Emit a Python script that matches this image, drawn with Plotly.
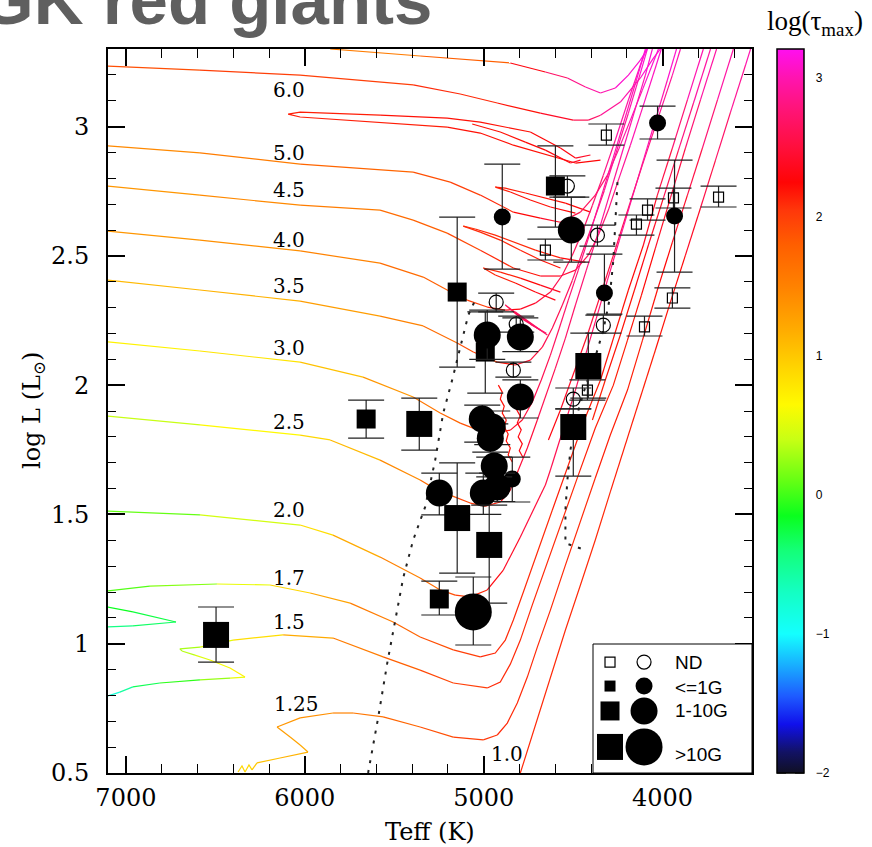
import plotly.graph_objects as go
from plotly.colors import sample_colorscale

# ---------------------------------------------------------------------------
# Colour scale for log(tau_max)
# ---------------------------------------------------------------------------
TAU_MIN, TAU_MAX = -2.0, 3.21
TAU_STOPS = [
    (-2.0, "rgb(16,16,36)"), (-1.85, "rgb(18,18,100)"), (-1.65, "rgb(16,16,235)"),
    (-1.45, "rgb(30,90,255)"), (-1.25, "rgb(25,165,255)"), (-1.0, "rgb(20,255,255)"),
    (-0.7, "rgb(20,255,195)"), (-0.4, "rgb(20,255,120)"), (-0.15, "rgb(10,255,30)"),
    (0.1, "rgb(100,255,20)"), (0.4, "rgb(200,255,20)"), (0.65, "rgb(255,250,0)"),
    (0.9, "rgb(255,215,0)"), (1.2, "rgb(255,170,0)"), (1.5, "rgb(255,130,0)"),
    (1.8, "rgb(255,95,0)"), (2.05, "rgb(255,55,10)"), (2.25, "rgb(255,5,5)"),
    (2.5, "rgb(255,15,60)"), (2.8, "rgb(255,20,125)"), (3.0, "rgb(255,20,175)"),
    (3.21, "rgb(255,15,240)"),
]

# ---------------------------------------------------------------------------
# Evolutionary tracks: (Teff [K], log L/Lsun, log tau_max)
# ---------------------------------------------------------------------------
TRACK_7_0 = [(5858, 3.300, 1.5), (5355, 3.273, 1.6), (4851, 3.246, 2.0), (4655, 3.211, 2.6),
             (4532, 3.188, 2.8), (4431, 3.153, 2.9), (4347, 3.130, 3.0), (4264, 3.149, 3.05),
             (4191, 3.199, 3.1), (4124, 3.257, 3.15), (4085, 3.300, 3.2)]

TRACK_6_0 = [(7101, 3.234, 1.9), (6586, 3.218, 1.95), (6026, 3.199, 2.0), (5394, 3.161, 2.05),
             (5131, 3.126, 2.1), (4924, 3.091, 2.15), (4683, 3.052, 2.3), (4499, 3.025, 2.5),
             (4415, 3.025, 2.65), (4347, 3.044, 2.8), (4236, 3.095, 2.95), (4124, 3.188, 3.05),
             (4051, 3.265, 3.1), (4012, 3.300, 3.15)]

LOOP_6_0 = [(4347, 2.870, 2.3), (4487, 2.859, 2.25), (4644, 2.890, 2.2), (4834, 2.928, 2.2),
            (5019, 2.975, 2.2), (5204, 2.998, 2.2), (5579, 3.017, 2.15), (6026, 3.037, 2.15),
            (6093, 3.048, 2.15), (6026, 3.056, 2.15), (5579, 3.044, 2.2), (5204, 3.033, 2.2),
            (5019, 3.017, 2.2), (4739, 2.979, 2.25), (4571, 2.917, 2.3), (4487, 2.878, 2.35),
            (4403, 2.890, 2.4)]

LOOP_6_0B = [(5064, 3.010, 2.2), (4907, 2.979, 2.2), (4767, 2.940, 2.25), (4655, 2.909, 2.3),
             (4571, 2.878, 2.3), (4515, 2.859, 2.35), (4459, 2.870, 2.4)]

TRACK_5_0 = [(7101, 2.925, 1.4), (6586, 2.898, 1.5), (6026, 2.855, 1.65), (5394, 2.824, 1.85),
             (5187, 2.785, 1.95), (5019, 2.735, 2.05), (4834, 2.669, 2.2), (4683, 2.646, 2.3),
             (4571, 2.630, 2.45), (4459, 2.669, 2.6), (4376, 2.735, 2.7), (4308, 2.812, 2.8),
             (4247, 2.909, 2.9), (4180, 3.025, 3.0), (4113, 3.141, 3.05), (4040, 3.265, 3.1),
             (4023, 3.300, 3.1)]

LOOP_5_0 = [(4403, 2.669, 2.3), (4543, 2.704, 2.25), (4655, 2.723, 2.2), (4767, 2.743, 2.2),
            (4879, 2.762, 2.15), (4935, 2.766, 2.15), (4851, 2.747, 2.2), (4739, 2.716, 2.2),
            (4627, 2.689, 2.25), (4487, 2.665, 2.3)]

TRACK_4_5 = [(7101, 2.770, 1.3), (6586, 2.735, 1.4), (6026, 2.696, 1.5), (5579, 2.677, 1.6),
             (5394, 2.638, 1.75), (5204, 2.588, 1.9), (5019, 2.522, 2.0), (4834, 2.453, 2.15),
             (4683, 2.422, 2.3), (4571, 2.422, 2.45), (4487, 2.445, 2.55), (4415, 2.503, 2.65),
             (4359, 2.580, 2.7), (4303, 2.677, 2.8), (4247, 2.793, 2.85), (4180, 2.928, 2.95),
             (4107, 3.083, 3.0), (4035, 3.238, 3.1), (4007, 3.300, 3.1)]

LOOP_4_5 = [(4431, 2.476, 2.3), (4571, 2.492, 2.2), (4711, 2.522, 2.15), (4823, 2.550, 2.1),
            (4935, 2.580, 2.1), (5047, 2.604, 2.05), (5114, 2.615, 2.05), (5019, 2.592, 2.1),
            (4907, 2.561, 2.1), (4795, 2.522, 2.15), (4683, 2.484, 2.2), (4571, 2.453, 2.25)]

TRACK_4_0 = [(7101, 2.596, 1.3), (6586, 2.561, 1.35), (6026, 2.519, 1.45), (5579, 2.472, 1.6),
             (5338, 2.418, 1.75), (5204, 2.368, 1.85), (5092, 2.329, 1.95), (4980, 2.302, 2.1),
             (4879, 2.290, 2.25), (4795, 2.294, 2.35), (4711, 2.317, 2.45), (4627, 2.360, 2.55),
             (4560, 2.426, 2.6), (4504, 2.503, 2.65), (4448, 2.592, 2.7), (4392, 2.696, 2.75),
             (4331, 2.812, 2.8), (4264, 2.948, 2.9), (4191, 3.103, 3.0), (4124, 3.238, 3.05),
             (4090, 3.300, 3.1)]

LOOP_4_0 = [(4571, 2.360, 2.4), (4683, 2.387, 2.3), (4795, 2.414, 2.2), (4907, 2.437, 2.15),
            (5002, 2.453, 2.1), (4935, 2.426, 2.15), (4823, 2.395, 2.2), (4711, 2.360, 2.3),
            (4599, 2.329, 2.4)]

TRACK_3_5 = [(7101, 2.406, 1.05), (6586, 2.368, 1.1), (6026, 2.325, 1.2), (5579, 2.267, 1.4),
             (5338, 2.229, 1.6), (5148, 2.163, 1.8), (5058, 2.128, 1.95), (4924, 2.089, 2.1),
             (4823, 2.078, 2.3), (4739, 2.097, 2.45), (4672, 2.147, 2.55), (4616, 2.221, 2.6),
             (4560, 2.310, 2.65), (4504, 2.406, 2.7), (4448, 2.515, 2.75), (4387, 2.631, 2.8),
             (4325, 2.754, 2.85), (4258, 2.901, 2.9), (4191, 3.052, 2.95), (4124, 3.207, 3.05),
             (4085, 3.300, 3.1)]

LOOP_3_5 = [(4644, 2.194, 2.7), (4767, 2.252, 2.65), (4879, 2.310, 2.6), (4795, 2.260, 2.65),
            (4683, 2.213, 2.7), (4823, 2.283, 2.65), (4739, 2.236, 2.7), (4650, 2.201, 2.75)]

TRACK_3_0 = [(7101, 2.167, 0.7), (6586, 2.132, 0.75), (6026, 2.089, 0.9), (5674, 2.031, 1.2),
             (5394, 1.954, 1.5), (5243, 1.892, 1.7), (5131, 1.853, 1.85), (5030, 1.826, 2.0),
             (4935, 1.815, 2.15), (4851, 1.826, 2.3), (4784, 1.865, 2.45), (4728, 1.935, 2.55),
             (4678, 2.020, 2.6), (4627, 2.116, 2.65), (4577, 2.221, 2.7), (4527, 2.329, 2.75),
             (4471, 2.445, 2.8), (4409, 2.580, 2.85), (4347, 2.716, 2.9), (4280, 2.870, 2.95),
             (4213, 3.025, 3.0), (4146, 3.180, 3.05), (4096, 3.300, 3.1)]

TRACK_2_5 = [(7101, 1.880, 0.35), (6586, 1.846, 0.5), (6026, 1.807, 0.8), (5858, 1.788, 0.95),
             (5579, 1.710, 1.3), (5355, 1.633, 1.6), (5260, 1.594, 1.75), (5159, 1.567, 1.9),
             (5075, 1.544, 2.0), (4991, 1.532, 2.1), (4907, 1.548, 2.25), (4851, 1.594, 2.35),
             (4806, 1.672, 2.45), (4756, 1.757, 2.5), (4700, 1.865, 2.55), (4650, 1.962, 2.6),
             (4599, 2.066, 2.65), (4543, 2.182, 2.7), (4487, 2.310, 2.75), (4426, 2.445, 2.8),
             (4364, 2.580, 2.85), (4297, 2.735, 2.9), (4230, 2.890, 2.95), (4163, 3.044, 3.0),
             (4096, 3.199, 3.05), (4057, 3.300, 3.1)]

CLUMP_2_5 = [(4918, 2.000, 2.2), (4896, 1.973, 2.2), (4907, 1.946, 2.2), (4885, 1.919, 2.2),
             (4896, 1.892, 2.2), (4874, 1.865, 2.2), (4885, 1.838, 2.2), (4863, 1.811, 2.2),
             (4874, 1.784, 2.2), (4851, 1.757, 2.2), (4863, 1.730, 2.2), (4840, 1.703, 2.2)]

CLUMP_2_0 = [(4823, 1.962, 2.3), (4801, 1.935, 2.3), (4818, 1.908, 2.3), (4796, 1.881, 2.3),
             (4812, 1.854, 2.3), (4790, 1.827, 2.3), (4807, 1.800, 2.3), (4784, 1.773, 2.3),
             (4801, 1.746, 2.3), (4779, 1.719, 2.3)]

TRACK_2_0 = [(7101, 1.513, 0.0), (6586, 1.498, 0.2), (6026, 1.459, 0.7), (5842, 1.420, 1.0),
             (5579, 1.335, 1.35), (5355, 1.254, 1.65), (5243, 1.208, 1.8), (5159, 1.188, 1.95),
             (5075, 1.181, 2.05), (4980, 1.208, 2.2), (4890, 1.285, 2.35), (4840, 1.351, 2.4),
             (4795, 1.413, 2.45), (4739, 1.494, 2.5), (4700, 1.544, 2.5), (4655, 1.614, 2.55),
             (4627, 1.672, 2.55), (4583, 1.768, 2.6), (4538, 1.873, 2.6), (4487, 1.981, 2.65),
             (4431, 2.116, 2.7), (4370, 2.259, 2.75), (4308, 2.406, 2.8), (4241, 2.561, 2.85),
             (4174, 2.716, 2.9), (4107, 2.870, 2.95), (4040, 3.025, 3.0), (3973, 3.180, 3.05),
             (3922, 3.300, 3.1)]

TRACK_1_7 = [(7101, 1.204, 0.0), (6866, 1.223, 0.1), (6491, 1.231, 0.35), (6194, 1.227, 0.75),
             (5970, 1.196, 1.1), (5746, 1.157, 1.4), (5506, 1.084, 1.7), (5355, 1.026, 1.85),
             (5170, 0.976, 1.95), (5019, 0.949, 2.05), (4935, 0.964, 2.1), (4879, 1.014, 2.1),
             (4834, 1.092, 2.1), (4778, 1.200, 2.1), (4700, 1.351, 2.1), (4616, 1.517, 2.15),
             (4527, 1.691, 2.15), (4437, 1.865, 2.15), (4347, 2.020, 2.2), (4269, 2.194, 2.2),
             (4191, 2.368, 2.25), (4107, 2.542, 2.3), (4029, 2.735, 2.45), (3945, 2.917, 2.65),
             (3861, 3.103, 2.9), (3772, 3.300, 3.1)]

HOOK_1_7 = [(7101, 1.142, -0.1), (6961, 1.123, -0.2), (6720, 1.084, -0.3), (6961, 1.069, -0.4),
            (7101, 1.065, -0.5)]

TRACK_1_5 = [(7101, 0.798, -0.9), (7034, 0.813, -0.7), (6961, 0.833, -0.45), (6810, 0.848, -0.2),
             (6586, 0.860, 0.1), (6418, 0.867, 0.4), (6334, 0.871, 0.75), (6418, 0.906, 0.7),
             (6530, 0.937, 0.55), (6614, 0.956, 0.4), (6687, 0.972, 0.3), (6698, 0.980, 0.25),
             (6586, 0.987, 0.35), (6401, 1.014, 0.7), (6121, 1.034, 1.0), (5842, 1.022, 1.35),
             (5562, 0.949, 1.75), (5355, 0.898, 1.9), (5170, 0.848, 2.0), (4980, 0.829, 2.05),
             (4907, 0.852, 2.1), (4851, 0.921, 2.1), (4795, 1.014, 2.1), (4728, 1.150, 2.1),
             (4644, 1.312, 2.1), (4560, 1.478, 2.1), (4471, 1.652, 2.15), (4376, 1.834, 2.15),
             (4275, 2.000, 2.15), (4196, 2.174, 2.2), (4118, 2.348, 2.2), (4040, 2.530, 2.3),
             (3956, 2.724, 2.45), (3872, 2.917, 2.65), (3788, 3.103, 2.9), (3698, 3.300, 3.05)]

TRACK_1_25 = [(6373, 0.504, 0.9), (6351, 0.527, 0.9), (6334, 0.504, 0.9), (6312, 0.531, 0.9),
              (6295, 0.512, 0.95), (6267, 0.539, 1.0), (6138, 0.558, 1.1), (5982, 0.581, 1.2),
              (6026, 0.608, 1.25), (6082, 0.639, 1.3), (6155, 0.678, 1.3), (6026, 0.713, 1.35),
              (5842, 0.732, 1.45), (5730, 0.732, 1.55), (5562, 0.717, 1.7), (5355, 0.678, 1.85),
              (5170, 0.639, 1.95), (5002, 0.628, 2.05), (4924, 0.647, 2.05), (4868, 0.693, 2.1),
              (4812, 0.771, 2.1), (4756, 0.871, 2.1), (4700, 0.987, 2.1), (4627, 1.130, 2.1),
              (4543, 1.304, 2.1), (4459, 1.478, 2.1), (4376, 1.641, 2.15), (4292, 1.807, 2.15),
              (4196, 1.981, 2.15), (4112, 2.174, 2.2), (4029, 2.368, 2.2), (3945, 2.553, 2.3),
              (3861, 2.735, 2.45), (3777, 2.917, 2.65), (3693, 3.103, 2.9), (3604, 3.300, 3.05)]

TRACK_1_0 = [(4795, 0.500, 2.1), (4711, 0.686, 2.1), (4627, 0.867, 2.1), (4543, 1.053, 2.1),
             (4459, 1.227, 2.1), (4376, 1.401, 2.1), (4292, 1.587, 2.15), (4208, 1.768, 2.15),
             (4124, 1.954, 2.15), (4040, 2.136, 2.2), (3956, 2.321, 2.2), (3872, 2.503, 2.3),
             (3788, 2.685, 2.45), (3704, 2.870, 2.6), (3620, 3.056, 2.8), (3536, 3.238, 3.0),
             (3508, 3.300, 3.05)]

AGB_A = [(4638, 1.788, 2.3), (4571, 1.904, 2.35), (4499, 2.039, 2.4), (4420, 2.194, 2.45),
         (4347, 2.348, 2.5), (4269, 2.515, 2.55), (4191, 2.685, 2.65), (4113, 2.851, 2.75),
         (4029, 3.025, 2.85), (3945, 3.199, 2.95), (3900, 3.300, 3.0)]

AGB_B = [(4392, 1.865, 2.15), (4320, 2.020, 2.2), (4236, 2.194, 2.2), (4157, 2.368, 2.25),
         (4079, 2.542, 2.35), (3995, 2.724, 2.5), (3911, 2.909, 2.7), (3827, 3.091, 2.9),
         (3732, 3.300, 3.05)]

TRACKS = [TRACK_7_0, TRACK_6_0, LOOP_6_0, LOOP_6_0B, TRACK_5_0, LOOP_5_0, TRACK_4_5, LOOP_4_5,
          TRACK_4_0, LOOP_4_0, TRACK_3_5, LOOP_3_5, TRACK_3_0, TRACK_2_5, CLUMP_2_5, CLUMP_2_0,
          TRACK_2_0, TRACK_1_7, HOOK_1_7, TRACK_1_5, TRACK_1_25, TRACK_1_0, AGB_A, AGB_B]

# Mass labels of the tracks (Msun)
MASS_LABELS = ["6.0", "5.0", "4.5", "4.0", "3.5", "3.0", "2.5", "2.0", "1.7", "1.5", "1.25", "1.0"]
MASS_LABEL_TEFF = [6088, 6088, 6088, 6088, 6088, 6088, 6088, 6088, 6088, 6088, 6049, 4868]
MASS_LABEL_LOGL = [3.141, 2.898, 2.754, 2.561, 2.383, 2.143, 1.857, 1.517, 1.254, 1.084, 0.767, 0.574]

# Dotted boundary lines (Teff, log L)
EDGE_HOT = [(5646, 0.500), (5590, 0.713), (5539, 0.925), (5495, 1.092), (5450, 1.254),
            (5394, 1.401), (5327, 1.529), (5271, 1.710), (5226, 1.892), (5176, 2.020),
            (5131, 2.147), (5086, 2.271), (5047, 2.329)]
EDGE_COOL = [(4252, 2.785), (4264, 2.638), (4275, 2.484), (4297, 2.329), (4331, 2.213),
             (4381, 2.097), (4437, 1.981), (4487, 1.865), (4515, 1.749), (4532, 1.633),
             (4543, 1.517), (4543, 1.389), (4487, 1.374), (4431, 1.362)]

# ---------------------------------------------------------------------------
# Observed stars: Teff, log L, upper and lower log L bounds, class
# class: nd = non-detection, lo = <=1G, mid = 1-10G, hi = >10G ; sq / ci = symbol family
# ---------------------------------------------------------------------------
STAR_TEFF = [6496, 5657, 5360, 5148, 4599, 4532, 4896, 4314, 4028, 4655, 4510, 4364, 4146, 4084,
             3939, 3933, 3687, 4930, 4325, 3945, 4818, 4331, 4101, 4980, 4991, 4795, 4834, 4415,
             4499, 4499, 4795, 5008, 4952, 4963, 4941, 4840, 5248, 5002, 4924, 5148, 4969, 5248,
             5058, 4420]
STAR_LOGL = [1.034, 1.869, 1.850, 2.360, 2.770, 2.770, 2.650, 2.967, 3.014, 2.522, 2.600, 2.580,
             2.623, 2.677, 2.724, 2.654, 2.727, 2.321, 2.356, 2.337, 2.236, 2.232, 2.225, 2.194,
             2.128, 2.186, 2.058, 2.074, 1.946, 1.838, 1.954, 1.869, 1.838, 1.795, 1.687, 1.637,
             1.583, 1.583, 1.606, 1.486, 1.382, 1.173, 1.123, 1.981]
STAR_LOGL_HI = [1.142, 1.942, 1.950, 2.650, 2.925, 2.809, 2.855, 3.010, 3.079, 2.565, 2.727, 2.619,
                2.658, 2.720, 2.762, 2.870, 2.770, 2.356, 2.507, 2.376, 2.267, 2.271, 2.267, 2.290,
                2.283, 2.260, 2.089, 2.201, 1.989, 1.908, 2.020, 1.923, 1.900, 1.850, 1.722, 1.722,
                1.660, 1.660, 1.660, 1.699, 1.536, 1.242, 1.258, 2.020]
STAR_LOGL_LO = [0.929, 1.795, 1.749, 2.070, 2.611, 2.727, 2.449, 2.928, 2.952, 2.484, 2.476, 2.538,
                2.580, 2.638, 2.685, 2.437, 2.689, 2.283, 2.275, 2.298, 2.205, 2.201, 2.190, 2.100,
                1.969, 2.130, 2.031, 1.950, 1.908, 1.648, 1.873, 1.780, 1.770, 1.741, 1.645, 1.548,
                1.498, 1.500, 1.550, 1.273, 1.157, 1.111, 0.995, 1.942]
STAR_CLASS = ["hi_sq", "mid_sq", "hi_sq", "mid_sq", "mid_sq", "nd_ci", "lo_ci", "nd_sq", "lo_ci",
              "nd_sq", "mid_ci", "nd_ci", "nd_sq", "nd_sq", "nd_sq", "lo_ci", "nd_sq", "nd_ci",
              "lo_ci", "nd_sq", "nd_ci", "nd_ci", "nd_sq", "mid_ci", "mid_sq", "mid_ci", "nd_ci",
              "hi_sq", "nd_ci", "hi_sq", "mid_ci", "mid_ci", "mid_ci", "mid_ci", "mid_ci", "lo_ci",
              "mid_ci", "mid_ci", "mid_ci", "hi_sq", "hi_sq", "mid_sq", "hi_ci", "nd_sq"]

# Symbol styling per class
CLASS_STYLE = {
    "nd_sq": ("square-open", 10), "nd_ci": ("circle-open", 14),
    "lo_sq": ("square", 11), "lo_ci": ("circle", 17),
    "mid_sq": ("square", 19), "mid_ci": ("circle", 27),
    "hi_sq": ("square", 26), "hi_ci": ("circle", 37),
}
LEGEND_ROWS = [("ND", "nd"), ("<=1G", "lo"), ("1-10G", "mid"), (">10G", "hi")]

# colour-bar ticks
CBAR_MAJOR = [-2, -1, 0, 1, 2, 3]
CBAR_MINOR_STEP = 0.2

SERIF = "DejaVu Serif"
SANS = "Liberation Sans, Arial, sans-serif"

# plot frame in pixels (left, right, top, bottom) and colour-bar column
PX_L, PX_R, PX_T, PX_B = 108, 752, 49, 773
CB_L, CB_R = 777, 804
PW, PH = PX_R - PX_L, PX_B - PX_T


def paper_x(px):
    return (px - PX_L) / PW


def paper_y(py):
    return (PX_B - py) / PH


colorscale = [[(v - TAU_MIN) / (TAU_MAX - TAU_MIN), c] for v, c in TAU_STOPS]


def tau_colour(v):
    f = (v - TAU_MIN) / (TAU_MAX - TAU_MIN)
    return sample_colorscale(colorscale, [min(max(f, 0.0), 1.0)])[0]


fig = go.Figure()

# --- tracks, coloured segment by segment (segments grouped by colour bin) ---
segments = {}
for trk in TRACKS:
    for (t0, l0, c0), (t1, l1, c1) in zip(trk[:-1], trk[1:]):
        key = round(round((c0 + c1) / 2 / 0.05) * 0.05, 2)
        xs, ys = segments.setdefault(key, ([], []))
        if len(xs) >= 2 and xs[-2] == t0 and ys[-2] == l0:
            xs.pop(); ys.pop()
            xs += [t1, None]; ys += [l1, None]
        else:
            xs += [t0, t1, None]; ys += [l0, l1, None]

for key in sorted(segments):
    xs, ys = segments[key]
    fig.add_trace(go.Scatter(x=xs, y=ys, mode="lines",
                             line=dict(color=tau_colour(key), width=1.2),
                             hoverinfo="skip", showlegend=False))

# invisible carrier of the colour bar
all_pts = [p for trk in TRACKS for p in trk]
fig.add_trace(go.Scatter(
    x=[p[0] for p in all_pts], y=[p[1] for p in all_pts], mode="markers",
    marker=dict(size=0.1, opacity=0, color=[p[2] for p in all_pts], colorscale=colorscale,
                cmin=TAU_MIN, cmax=TAU_MAX, showscale=True,
                colorbar=dict(x=paper_x(CB_L), xanchor="left", xpad=0, y=0.5,
                              yanchor="middle", ypad=0, len=1, lenmode="fraction",
                              thickness=CB_R - CB_L, thicknessmode="pixels", outlinewidth=1.5,
                              outlinecolor="black",
                              tickmode="array", tickvals=CBAR_MAJOR,
                              ticktext=[("−" + str(-v)) if v < 0 else str(v) for v in CBAR_MAJOR],
                              ticks="outside", ticklen=9, tickcolor="rgba(0,0,0,0)",
                              tickfont=dict(family=SANS, size=12, color="black"))),
    hoverinfo="skip", showlegend=False))

# --- dotted boundary lines ---
for edge in (EDGE_HOT, EDGE_COOL):
    fig.add_trace(go.Scatter(x=[p[0] for p in edge], y=[p[1] for p in edge], mode="lines",
                             line=dict(color="#222", width=2, dash="3px,7px"),
                             hoverinfo="skip", showlegend=False))

# --- stars with luminosity error bars ---
for cls in ["nd_sq", "nd_ci", "lo_sq", "lo_ci", "mid_sq", "mid_ci", "hi_sq", "hi_ci"]:
    idx = [i for i, c in enumerate(STAR_CLASS) if c == cls]
    if not idx:
        continue
    sym, size = CLASS_STYLE[cls]
    fig.add_trace(go.Scatter(
        x=[STAR_TEFF[i] for i in idx], y=[STAR_LOGL[i] for i in idx], mode="markers",
        marker=dict(symbol=sym, size=size, color="black",
                    line=dict(width=1.2 if "open" in sym else 0, color="black")),
        error_y=dict(type="data", symmetric=False,
                     array=[STAR_LOGL_HI[i] - STAR_LOGL[i] for i in idx],
                     arrayminus=[STAR_LOGL[i] - STAR_LOGL_LO[i] for i in idx],
                     color="#222", thickness=1.2, width=18),
        hoverinfo="skip", showlegend=False))

# --- key box (drawn on its own small axis pair) ---
row_y = [0.860, 0.674, 0.481, 0.202]
text_y = [0.860, 0.659, 0.488, 0.147]
for (label, prefix), ry in zip(LEGEND_ROWS, row_y):
    for fam, kx in (("sq", 0.107), ("ci", 0.321)):
        sym, size = CLASS_STYLE[prefix + "_" + fam]
        fig.add_trace(go.Scatter(
            x=[kx], y=[ry], xaxis="x3", yaxis="y3", mode="markers",
            marker=dict(symbol=sym, size=size, color="black",
                        line=dict(width=1.2 if "open" in sym else 0, color="black")),
            hoverinfo="skip", showlegend=False))

annotations = []
for (label, _), ty in zip(LEGEND_ROWS, text_y):
    annotations.append(dict(x=0.503, y=ty, xref="x3", yref="y3", text=label, showarrow=False,
                            xanchor="left", yanchor="middle",
                            font=dict(family=SANS, size=19, color="black")))

for lab, t, l in zip(MASS_LABELS, MASS_LABEL_TEFF, MASS_LABEL_LOGL):
    annotations.append(dict(x=t, y=l, xref="x", yref="y", text=lab, showarrow=False,
                            xanchor="center", yanchor="middle",
                            font=dict(family=SERIF, size=20, color="black")))

# axis titles
annotations.append(dict(x=0.5, y=paper_y(832), xref="paper", yref="paper",
                        text="Teff (K)", showarrow=False, xanchor="center", yanchor="middle",
                        font=dict(family=SERIF, size=24, color="black")))
annotations.append(dict(x=paper_x(33), y=paper_y(411), xref="paper", yref="paper",
                        text="log L (L<sub>⊙</sub>)", showarrow=False, textangle=-90,
                        xanchor="center", yanchor="middle",
                        font=dict(family=SERIF, size=24, color="black")))
# colour bar title
annotations.append(dict(x=paper_x(815), y=paper_y(23), xref="paper", yref="paper",
                        text="log(τ<sub>max</sub>)", showarrow=False,
                        xanchor="center", yanchor="middle",
                        font=dict(family="Liberation Serif", size=27, color="black")))
# heading
annotations.append(dict(x=paper_x(-22), y=paper_y(41), xref="paper", yref="paper",
                        text="<b>GK red giants</b>", showarrow=False, xanchor="left",
                        yanchor="bottom",
                        font=dict(family=SANS, size=69, color="#5f5f5f")))

# colour-bar tick marks on both edges of the bar
shapes = [dict(type="rect", xref="paper", yref="paper", x0=paper_x(593), x1=1.0,
               y0=0, y1=paper_y(644), line=dict(color="black", width=1))]
n_minor = int(round((3.2 - TAU_MIN) / CBAR_MINOR_STEP))
for i in range(n_minor + 1):
    v = TAU_MIN + i * CBAR_MINOR_STEP
    major = abs(v - round(v)) < 1e-6
    tl = 9 if major else 6
    yv = (v - TAU_MIN) / (TAU_MAX - TAU_MIN)
    for xa, xb in ((CB_L, CB_L + tl), (CB_R - tl, CB_R)):
        shapes.append(dict(type="line", xref="paper", yref="paper", x0=paper_x(xa),
                           x1=paper_x(xb), y0=yv, y1=yv,
                           line=dict(color="black", width=1.2 if major else 1)))

axis_common = dict(ticks="inside", tickwidth=1.5, tickcolor="black", ticklen=17,
                   mirror="allticks", showline=True, linewidth=2, linecolor="black",
                   showgrid=False, zeroline=False,
                   tickfont=dict(family=SERIF, size=24, color="black"))

fig.update_layout(
    width=872, height=847, margin=dict(l=PX_L, r=872 - PX_R, t=PX_T, b=847 - PX_B),
    paper_bgcolor="white", plot_bgcolor="white",
    xaxis=dict(range=[7100, 3500], tick0=0, dtick=1000, ticklabelstandoff=2,
               minor=dict(dtick=200, tick0=0, ticks="inside", ticklen=9, tickwidth=1.2,
                          tickcolor="black", showgrid=False),
               **axis_common),
    yaxis=dict(range=[0.5, 3.3], tick0=0, dtick=0.5, ticklabelstandoff=12,
               minor=dict(dtick=0.1, tick0=0, ticks="inside", ticklen=8, tickwidth=1.2,
                          tickcolor="black", showgrid=False),
               **axis_common),
    xaxis3=dict(domain=[paper_x(593), 1.0], range=[0, 1], visible=False, anchor="y3",
                fixedrange=True),
    yaxis3=dict(domain=[0, paper_y(644)], range=[0, 1], visible=False, anchor="x3",
                fixedrange=True),
    shapes=shapes,
    annotations=annotations,
    showlegend=False,
)

fig.write_html("out.html")
